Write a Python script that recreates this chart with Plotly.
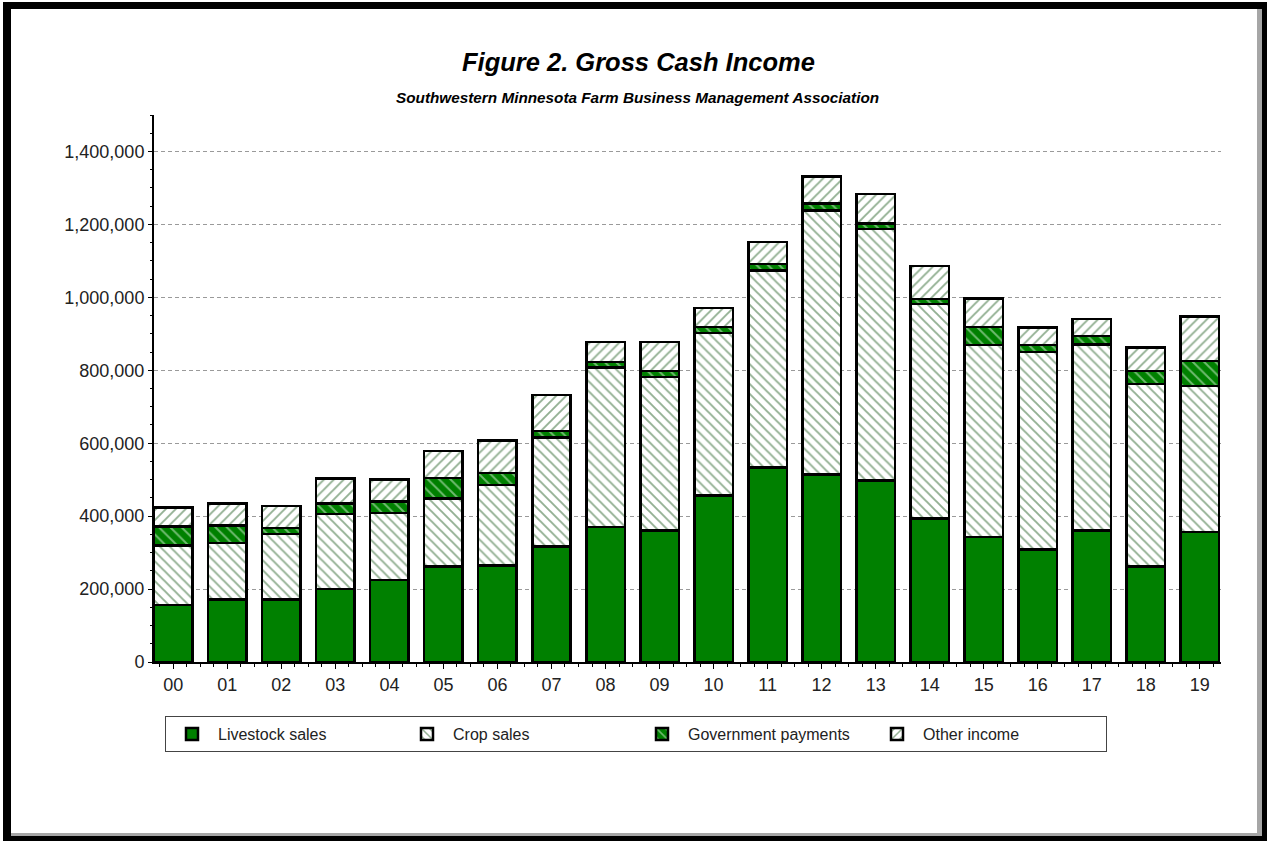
import plotly.graph_objects as go

# Crop years (2000-2019) shown as two-digit labels
years = ["00", "01", "02", "03", "04", "05", "06", "07", "08", "09",
         "10", "11", "12", "13", "14", "15", "16", "17", "18", "19"]

# Gross cash income components, dollars per farm
livestock_sales = [156000, 171000, 171000, 200000, 225000, 262000, 264000, 317000, 370000, 361000,
                   457000, 534000, 514000, 498000, 394000, 343000, 309000, 361000, 262000, 357000]
crop_sales = [164000, 155000, 180000, 206000, 183000, 187000, 222000, 299000, 437000, 421000,
              445000, 540000, 724000, 689000, 588000, 526000, 541000, 510000, 500000, 400000]
government_payments = [52000, 49000, 16000, 28000, 32000, 56000, 32000, 18000, 16000, 16000,
                       16000, 18000, 20000, 16000, 14000, 50000, 19000, 23000, 36000, 68000]
other_income = [52000, 59000, 61000, 69000, 60000, 74000, 90000, 98000, 55000, 79000,
                53000, 60000, 74000, 81000, 90000, 78000, 48000, 47000, 65000, 122000]

y_ticks = [0, 200000, 400000, 600000, 800000, 1000000, 1200000, 1400000]

GREEN = "#008000"
HATCH = "#245f24"
FONT = "Liberation Sans, Arial, sans-serif"

W, H = 1267, 841
ML, MR, MT, MB = 154, 46, 115, 179
PW, PH = W - ML - MR, H - MT - MB


def px(x):
    return (x - ML) / PW


def py(y):
    return (H - MB - y) / PH


xpos = list(range(len(years)))
outline = dict(color="black", width=2.5)

fig = go.Figure()
fig.add_trace(go.Bar(
    x=xpos, y=livestock_sales, name="Livestock sales",
    marker=dict(color=GREEN, line=outline),
))
fig.add_trace(go.Bar(
    x=xpos, y=crop_sales, name="Crop sales",
    marker=dict(color="white", line=outline,
                pattern=dict(shape="\\", fgcolor=HATCH, bgcolor="white", size=7, solidity=0.27)),
))
fig.add_trace(go.Bar(
    x=xpos, y=government_payments, name="Government payments",
    marker=dict(color=GREEN, line=outline,
                pattern=dict(shape="\\", fgcolor="#e0f4e0", bgcolor=GREEN, size=8, solidity=0.25)),
))
fig.add_trace(go.Bar(
    x=xpos, y=other_income, name="Other income",
    marker=dict(color="white", line=outline,
                pattern=dict(shape="/", fgcolor=HATCH, bgcolor="white", size=7, solidity=0.27)),
))

# Window-style frame around the chart panel
shapes = [
    dict(type="rect", xref="paper", yref="paper", layer="below",
         x0=px(3), x1=px(W), y0=py(H), y1=py(2),
         fillcolor="black", line=dict(width=0)),
    dict(type="rect", xref="paper", yref="paper", layer="below",
         x0=px(11), x1=px(1262), y0=py(836), y1=py(9),
         fillcolor="#a6a6a6", line=dict(width=0)),
    dict(type="rect", xref="paper", yref="paper", layer="below",
         x0=px(11), x1=px(1257), y0=py(833), y1=py(9),
         fillcolor="white", line=dict(width=0)),
]

annotations = [
    dict(text="<b><i>Figure 2. Gross Cash Income</i></b>", xref="paper", yref="paper",
         x=px(638), y=py(62), xanchor="center", yanchor="middle", showarrow=False,
         font=dict(family=FONT, size=25.5, color="black")),
    dict(text="<b><i>Southwestern Minnesota Farm Business Management Association</i></b>",
         xref="paper", yref="paper", x=px(637), y=py(98), xanchor="center", yanchor="middle",
         showarrow=False, font=dict(family=FONT, size=15.3, color="black")),
]

fig.update_layout(
    width=W, height=H,
    margin=dict(l=ML, r=MR, t=MT, b=MB, autoexpand=False),
    paper_bgcolor="white", plot_bgcolor="white",
    barmode="stack", bargap=0.288,
    font=dict(family=FONT, color="#222"),
    shapes=shapes, annotations=annotations,
    legend=dict(orientation="h", x=px(165), y=py(716), xanchor="left", yanchor="top",
                bgcolor="white", bordercolor="#444", borderwidth=1,
                font=dict(family=FONT, size=16, color="#222"),
                itemwidth=42, entrywidth=178, traceorder="normal"),
    xaxis=dict(range=[-0.357, 19.392], tickmode="array", tickvals=xpos, ticktext=years,
               showline=True, linecolor="black", linewidth=2, showgrid=False, zeroline=False,
               ticks="outside", ticklen=5, tickcolor="black", tickwidth=1,
               tickfont=dict(family=FONT, size=18, color="#222"),
               minor=dict(dtick=0.25, tick0=0, ticks="outside", ticklen=3,
                          tickcolor="black", showgrid=False)),
    yaxis=dict(range=[0, 1500000], tickmode="array", tickvals=y_ticks, tickformat=",d",
               showline=True, linecolor="black", linewidth=2, zeroline=False,
               showgrid=True, gridcolor="#9a9a9a", gridwidth=1, griddash="4px,3px",
               ticks="outside", ticklen=4, tickcolor="black", tickwidth=1,
               tickfont=dict(family=FONT, size=18, color="#222"),
               minor=dict(dtick=50000, tick0=0, ticks="outside", ticklen=2,
                          tickcolor="black", showgrid=False)),
)

fig.write_html("out.html")
